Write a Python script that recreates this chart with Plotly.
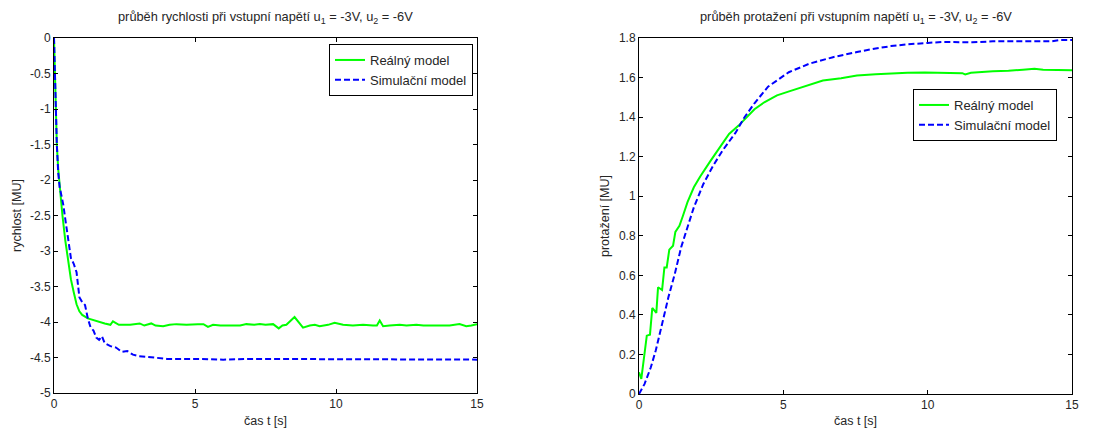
import plotly.graph_objects as go

# ---- Left chart: rychlost (velocity) ----
t_v_real = [0, 0.03, 0.06, 0.1, 0.15, 0.2, 0.3, 0.4, 0.5, 0.6, 0.7, 0.8, 0.9, 1.0, 1.2, 1.5, 1.8,
            2.0, 2.09, 2.3, 2.7, 3.04, 3.2, 3.45, 3.6, 3.87, 4.1, 4.34, 4.7, 5.1, 5.3, 5.46, 5.64,
            5.9, 6.1, 6.35, 6.6, 6.82, 7.1, 7.3, 7.5, 7.77, 7.97, 8.1, 8.24, 8.53, 8.83, 9.07,
            9.25, 9.42, 9.72, 9.95, 10.25, 10.6, 10.96, 11.31, 11.45, 11.55, 11.67, 11.9, 12.26,
            12.5, 12.85, 13.1, 13.44, 13.7, 14.03, 14.38, 14.62, 14.8, 15.0]
v_real = [0, -0.6, -1.0, -1.5, -1.85, -2.1, -2.5, -2.85, -3.15, -3.4, -3.58, -3.75, -3.85, -3.9,
          -3.95, -3.99, -4.02, -4.04, -3.99, -4.04, -4.04, -4.02, -4.05, -4.02, -4.05, -4.06,
          -4.04, -4.03, -4.04, -4.03, -4.03, -4.07, -4.04, -4.05, -4.05, -4.04, -4.05, -4.03,
          -4.04, -4.03, -4.04, -4.03, -4.09, -4.05, -4.04, -3.93, -4.08, -4.05, -4.04, -4.06,
          -4.04, -4.01, -4.04, -4.05, -4.04, -4.05, -4.05, -3.98, -4.06, -4.05, -4.04, -4.05,
          -4.04, -4.05, -4.05, -4.05, -4.05, -4.03, -4.06, -4.05, -4.03]

t_v_sim = [0, 0.03, 0.06, 0.1, 0.15, 0.2, 0.28, 0.33, 0.4, 0.5, 0.6, 0.7, 0.8, 0.9, 1.0, 1.1,
           1.2, 1.3, 1.4, 1.5, 1.6, 1.7, 1.8, 2.0, 2.2, 2.4, 2.6, 2.8, 3.0, 3.3, 3.6, 4.0, 5.0,
           5.5, 6.0, 7.0, 7.5, 8.0, 9.0, 10.0, 12.0, 15.0]
v_sim = [0, -0.5, -1.0, -1.5, -1.9, -2.1, -2.25, -2.35, -2.55, -2.85, -3.1, -3.18, -3.3, -3.65,
         -3.72, -3.76, -3.95, -4.08, -4.12, -4.22, -4.25, -4.2, -4.3, -4.34, -4.36, -4.42,
         -4.41, -4.46, -4.48, -4.49, -4.5, -4.52, -4.52, -4.53, -4.53, -4.52, -4.52, -4.53,
         -4.53, -4.53, -4.53, -4.53]

# ---- Right chart: protažení (elongation) ----
t_p_real = [0, 0.08, 0.27, 0.38, 0.46, 0.6, 0.66, 0.8, 0.88, 0.96, 1.05, 1.18, 1.26, 1.4, 1.52,
            1.68, 1.9, 2.12, 2.46, 2.79, 3.12, 3.45, 3.67, 4.0, 4.34, 4.78, 5.2, 5.8, 6.37, 7.0,
            7.55, 8.2, 8.73, 9.3, 9.9, 10.6, 11.2, 11.3, 11.5, 12.26, 12.8, 13.3, 13.7, 14.0,
            14.5, 15.0]
p_real = [0.11, 0.076, 0.295, 0.30, 0.435, 0.41, 0.54, 0.526, 0.64, 0.64, 0.73, 0.75, 0.82,
          0.85, 0.90, 0.97, 1.045, 1.10, 1.175, 1.248, 1.315, 1.357, 1.39, 1.44, 1.475, 1.51,
          1.53, 1.56, 1.585, 1.597, 1.61, 1.617, 1.622, 1.624, 1.625, 1.624, 1.622, 1.616,
          1.624, 1.632, 1.634, 1.64, 1.645, 1.64, 1.64, 1.637]

t_p_sim = [0, 0.19, 0.41, 0.58, 0.8, 1.02, 1.24, 1.46, 1.68, 1.9, 2.23, 2.57, 2.9, 3.34, 3.65,
           4.0, 4.47, 5.19, 5.9, 6.72, 7.55, 8.0, 8.73, 9.3, 10.0, 10.5, 11.55, 12.26, 14.27,
           14.6, 15.0]
p_sim = [0, 0.05, 0.135, 0.22, 0.354, 0.49, 0.607, 0.742, 0.843, 0.944, 1.062, 1.155, 1.232,
         1.32, 1.398, 1.47, 1.554, 1.627, 1.67, 1.703, 1.729, 1.742, 1.759, 1.768, 1.775, 1.78,
         1.778, 1.783, 1.783, 1.79, 1.79]

x_ticks = [0, 5, 10, 15]
v_ticks = [0, -0.5, -1, -1.5, -2, -2.5, -3, -3.5, -4, -4.5, -5]
v_tick_text = ["0", "-0.5", "-1", "-1.5", "-2", "-2.5", "-3", "-3.5", "-4", "-4.5", "-5"]
p_ticks = [0, 0.2, 0.4, 0.6, 0.8, 1.0, 1.2, 1.4, 1.6, 1.8]
p_tick_text = ["0", "0.2", "0.4", "0.6", "0.8", "1", "1.2", "1.4", "1.6", "1.8"]

GREEN = "#00ff00"
BLUE = "#0000ff"
FONT = "Liberation Sans, Arial, sans-serif"
TXT = "#262626"

fig = go.Figure()
fig.add_trace(go.Scatter(x=t_v_real, y=v_real, mode="lines", name="Reálný model",
                         line=dict(color=GREEN, width=2), xaxis="x", yaxis="y", legend="legend"))
fig.add_trace(go.Scatter(x=t_v_sim, y=v_sim, mode="lines", name="Simulační model",
                         line=dict(color=BLUE, width=2, dash="6px,3px"), xaxis="x", yaxis="y",
                         legend="legend"))
fig.add_trace(go.Scatter(x=t_p_real, y=p_real, mode="lines", name="Reálný model",
                         line=dict(color=GREEN, width=2), xaxis="x2", yaxis="y2", legend="legend2"))
fig.add_trace(go.Scatter(x=t_p_sim, y=p_sim, mode="lines", name="Simulační model",
                         line=dict(color=BLUE, width=2, dash="6px,3px"), xaxis="x2", yaxis="y2",
                         legend="legend2"))

# page body has an 8px margin, so the figure is offset by (8, 8) in the window
OFF = 8
W, H = 1108 - OFF, 432 - OFF


def px(x):
    return (x - OFF) / W


def py(y):
    return 1 - (y - OFF) / H


axis_common = dict(showgrid=False, zeroline=False, showline=True, linecolor="black", linewidth=1,
                   mirror="ticks", ticks="inside", ticklen=4, tickcolor="black", automargin=False,
                   tickfont=dict(family=FONT, size=12, color=TXT))
AT = dict(family=FONT, size=12.5, color=TXT)
TT = dict(family=FONT, size=12.8, color=TXT)
LF = dict(family=FONT, size=13, color=TXT)

fig.update_layout(
    width=W, height=H,
    margin=dict(l=0, r=0, t=0, b=0, autoexpand=False),
    paper_bgcolor="white", plot_bgcolor="white",
    font=dict(family=FONT, size=12, color=TXT),
    xaxis=dict(domain=[px(54), px(477)], range=[0, 15], tickvals=x_ticks, anchor="y",
               **axis_common),
    yaxis=dict(domain=[py(393), py(38)], range=[-5, 0], tickvals=v_ticks,
               ticktext=v_tick_text, anchor="x", **axis_common),
    xaxis2=dict(domain=[px(639), px(1072)], range=[0, 15], tickvals=x_ticks, anchor="y2",
                **axis_common),
    yaxis2=dict(domain=[py(394), py(38)], range=[0, 1.8], tickvals=p_ticks,
                ticktext=p_tick_text, anchor="x2", **axis_common),
    legend=dict(x=px(473), y=py(44), xanchor="right", yanchor="top",
                bgcolor="white", bordercolor="black", borderwidth=1,
                font=LF, tracegroupgap=0, itemwidth=30),
    legend2=dict(x=px(1057), y=py(89), xanchor="right", yanchor="top",
                 bgcolor="white", bordercolor="black", borderwidth=1,
                 font=LF, tracegroupgap=0, itemwidth=30),
    annotations=[
        dict(text="průběh rychlosti při vstupní napětí u<sub>1</sub> = -3V, u<sub>2</sub> = -6V",
             x=px((54 + 477) / 2), y=py(17), xref="paper", yref="paper", showarrow=False,
             xanchor="center", yanchor="middle", font=TT),
        dict(text="průběh protažení při vstupním napětí u<sub>1</sub> = -3V, u<sub>2</sub> = -6V",
             x=px((639 + 1072) / 2), y=py(17), xref="paper", yref="paper", showarrow=False,
             xanchor="center", yanchor="middle", font=TT),
        dict(text="čas t [s]", x=px((54 + 477) / 2), y=py(421), xref="paper", yref="paper",
             showarrow=False, xanchor="center", yanchor="middle", font=AT),
        dict(text="čas t [s]", x=px((639 + 1072) / 2), y=py(421), xref="paper", yref="paper",
             showarrow=False, xanchor="center", yanchor="middle", font=AT),
        dict(text="rychlost [MU]", x=px(17), y=py(216), xref="paper", yref="paper",
             showarrow=False, xanchor="center", yanchor="middle", textangle=-90, font=AT),
        dict(text="protažení [MU]", x=px(605), y=py(216), xref="paper", yref="paper",
             showarrow=False, xanchor="center", yanchor="middle", textangle=-90, font=AT),
    ],
)

fig.write_html("out.html")
